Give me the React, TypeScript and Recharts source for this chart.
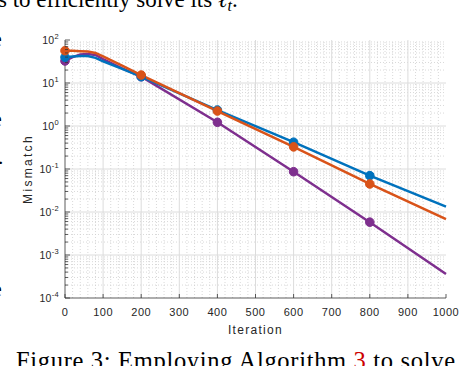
import React from 'react';
import { LineChart, Line, XAxis, YAxis, ReferenceLine } from 'recharts';

// ---- data ----
const iterations = [0, 20, 40, 60, 80, 100, 150, 200, 400, 600, 800, 1000];
const blueValues = [39.6, 41.5, 42.5, 42.5, 38.5, 32, 21.3, 14.0, 2.35, 0.42, 0.07, 0.0133];
const orangeValues = [56.4, 56, 55, 54, 50, 41.4, 25.2, 15.3, 2.23, 0.327, 0.0448, 0.0068];
const purpleValues = [32.5, 40, 46, 47, 45, 36, 21.9, 14, 1.22, 0.0865, 0.0058, 0.00036];
const markerIterations = [0, 200, 400, 600, 800];

const xTicks = [0, 100, 200, 300, 400, 500, 600, 700, 800, 900, 1000];
const xMinorTicks = [
  20, 40, 60, 80, 120, 140, 160, 180, 220, 240, 260, 280, 320, 340, 360, 380,
  420, 440, 460, 480, 520, 540, 560, 580, 620, 640, 660, 680, 720, 740, 760, 780,
  820, 840, 860, 880, 920, 940, 960, 980,
];
const yMajorTicks = [1e-4, 1e-3, 1e-2, 1e-1, 1, 10, 100];
const yMinorTicks = [
  2e-4, 3e-4, 4e-4, 5e-4, 6e-4, 7e-4, 8e-4, 9e-4,
  2e-3, 3e-3, 4e-3, 5e-3, 6e-3, 7e-3, 8e-3, 9e-3,
  2e-2, 3e-2, 4e-2, 5e-2, 6e-2, 7e-2, 8e-2, 9e-2,
  0.2, 0.3, 0.4, 0.5, 0.6, 0.7, 0.8, 0.9,
  2, 3, 4, 5, 6, 7, 8, 9,
  20, 30, 40, 50, 60, 70, 80, 90,
];
const yAllTicks = [...yMajorTicks, ...yMinorTicks].sort((a, b) => a - b);

const data = iterations.map((it, i) => ({
  iteration: it,
  blue: blueValues[i],
  orange: orangeValues[i],
  purple: purpleValues[i],
}));

const AXIS = '#333333';
const FONT = '"Liberation Sans", Arial, Helvetica, sans-serif';
const SERIF = '"Liberation Serif", "Times New Roman", serif';

const isMajor = (v: number) => {
  const l = Math.log10(v);
  return Math.abs(l - Math.round(l)) < 1e-9;
};

const LeftTick = (props: any) => {
  const { x, y, payload } = props;
  const v = payload.value;
  const major = isMajor(v);
  return (
    <g>
      <line x1={x} x2={x + (major ? 5 : 3)} y1={y} y2={y} stroke={AXIS} strokeWidth={0.8} />
      {major && (
        <text x={x - 6} y={y + 4} textAnchor="end" fontSize={10.5} fill="#262626" fontFamily={FONT} letterSpacing={0.3}>
          <tspan>10</tspan>
          <tspan dy={-5} fontSize={7.5}>{String(Math.round(Math.log10(v)))}</tspan>
        </text>
      )}
    </g>
  );
};

const RightTick = (props: any) => {
  const { x, y, payload } = props;
  const major = isMajor(payload.value);
  return <line x1={x} x2={x - (major ? 5 : 3)} y1={y} y2={y} stroke={AXIS} strokeWidth={0.8} />;
};

const BottomTick = (props: any) => {
  const { x, y, payload } = props;
  return (
    <g>
      <line x1={x} x2={x} y1={y} y2={y - 4} stroke={AXIS} strokeWidth={0.8} />
      <text x={x} y={y + 18} textAnchor="middle" fontSize={11} fill="#262626" fontFamily={FONT} letterSpacing={0.5}>
        {payload.value}
      </text>
    </g>
  );
};

const TopTick = (props: any) => {
  const { x, y } = props;
  return <line x1={x} x2={x} y1={y} y2={y + 4} stroke={AXIS} strokeWidth={0.8} />;
};

const makeDot = (color: string) => (props: any) => {
  const { cx, cy, payload, index } = props;
  if (!markerIterations.includes(payload.iteration)) return <g key={`d-${index}`} />;
  return <circle key={`d-${index}`} cx={cx} cy={cy} r={4.3} fill={color} stroke={color} strokeWidth={1} />;
};

export default function App() {
  return (
    <div style={{ position: 'absolute', left: 0, top: 0, width: 462, height: 366, background: '#fff', overflow: 'hidden' }}>
      <LineChart width={462} height={366} data={data} margin={{ top: 40, right: 16, bottom: 32, left: 0 }}>
        <XAxis
          dataKey="iteration"
          type="number"
          domain={[0, 1000]}
          ticks={xTicks}
          height={36}
          tickSize={0}
          tickMargin={0}
          tickLine={false}
          tick={<BottomTick />}
          axisLine={{ stroke: AXIS, strokeWidth: 0.8 }}
          interval={0}
          label={{ value: 'Iteration', position: 'insideBottom', offset: 0, fontSize: 12, fill: '#262626', fontFamily: FONT, letterSpacing: 1.3 }}
        />
        <XAxis
          xAxisId="top"
          orientation="top"
          type="number"
          dataKey="iteration"
          domain={[0, 1000]}
          ticks={xTicks}
          height={0}
          tickSize={0}
          tickMargin={0}
          tickLine={false}
          tick={<TopTick />}
          axisLine={{ stroke: AXIS, strokeWidth: 0.8 }}
          interval={0}
        />
        <YAxis
          type="number"
          scale="log"
          domain={[1e-4, 100]}
          ticks={yAllTicks}
          allowDataOverflow
          width={65}
          tickSize={0}
          tickMargin={0}
          tickLine={false}
          tick={<LeftTick />}
          axisLine={{ stroke: AXIS, strokeWidth: 0.8 }}
          interval={0}
          label={{ value: 'Mismatch', angle: -90, position: 'insideLeft', offset: 0, dx: 28, fontSize: 12, fill: '#262626', fontFamily: FONT, letterSpacing: 2.3, style: { textAnchor: 'middle' } }}
        />
        <YAxis
          yAxisId="right"
          orientation="right"
          type="number"
          scale="log"
          domain={[1e-4, 100]}
          ticks={yAllTicks}
          allowDataOverflow
          width={0}
          tickSize={0}
          tickMargin={0}
          tickLine={false}
          tick={<RightTick />}
          axisLine={{ stroke: AXIS, strokeWidth: 0.8 }}
          interval={0}
        />
        {yMinorTicks.map((v) => (
          <ReferenceLine key={`ym-${v}`} y={v} stroke="#cfcfcf" strokeWidth={0.8} strokeDasharray="1 2" />
        ))}
        {xMinorTicks.map((v) => (
          <ReferenceLine key={`xm-${v}`} x={v} stroke="#cfcfcf" strokeWidth={0.8} strokeDasharray="1 2" />
        ))}
        {yMajorTicks.slice(1, -1).map((v) => (
          <ReferenceLine key={`yM-${v}`} y={v} stroke="#dcdcdc" strokeWidth={1} />
        ))}
        {xTicks.slice(1, -1).map((v) => (
          <ReferenceLine key={`xM-${v}`} x={v} stroke="#dcdcdc" strokeWidth={1} />
        ))}
        <Line dataKey="purple" stroke="#7E2F8E" strokeWidth={2.5} dot={makeDot('#7E2F8E')} activeDot={false} isAnimationActive={false} />
        <Line dataKey="blue" stroke="#0072BD" strokeWidth={2.5} dot={makeDot('#0072BD')} activeDot={false} isAnimationActive={false} />
        <Line dataKey="orange" stroke="#D95319" strokeWidth={2.5} dot={makeDot('#D95319')} activeDot={false} isAnimationActive={false} />
      </LineChart>
      <svg width={462} height={366} style={{ position: 'absolute', left: 0, top: 0, pointerEvents: 'none' }}>
        <text x={-2} y={7} fontSize={23} fontFamily={SERIF} fill="#000">
          <tspan>s to efficiently solve its </tspan>
          <tspan fontStyle="italic">ℓ</tspan>
          <tspan fontStyle="italic" fontSize={16} dy={4}>t</tspan>
          <tspan dy={-4}>.</tspan>
        </text>
        <text x={16} y={369} fontSize={24.5} fontFamily={SERIF} fill="#000" textLength={439} lengthAdjust="spacing">
          <tspan>Figure 3: Employing Algorithm </tspan>
          <tspan fill="#cc0000">3</tspan>
          <tspan> to solve</tspan>
        </text>
        <text x={-8} y={46} fontSize={22} fontFamily={SERIF}>e</text>
        <text x={-8} y={126} fontSize={22} fontFamily={SERIF}>e</text>
        <text x={-3} y={170} fontSize={22} fontFamily={SERIF}>·</text>
        <text x={-8} y={296} fontSize={22} fontFamily={SERIF}>e</text>
      </svg>
    </div>
  );
}
